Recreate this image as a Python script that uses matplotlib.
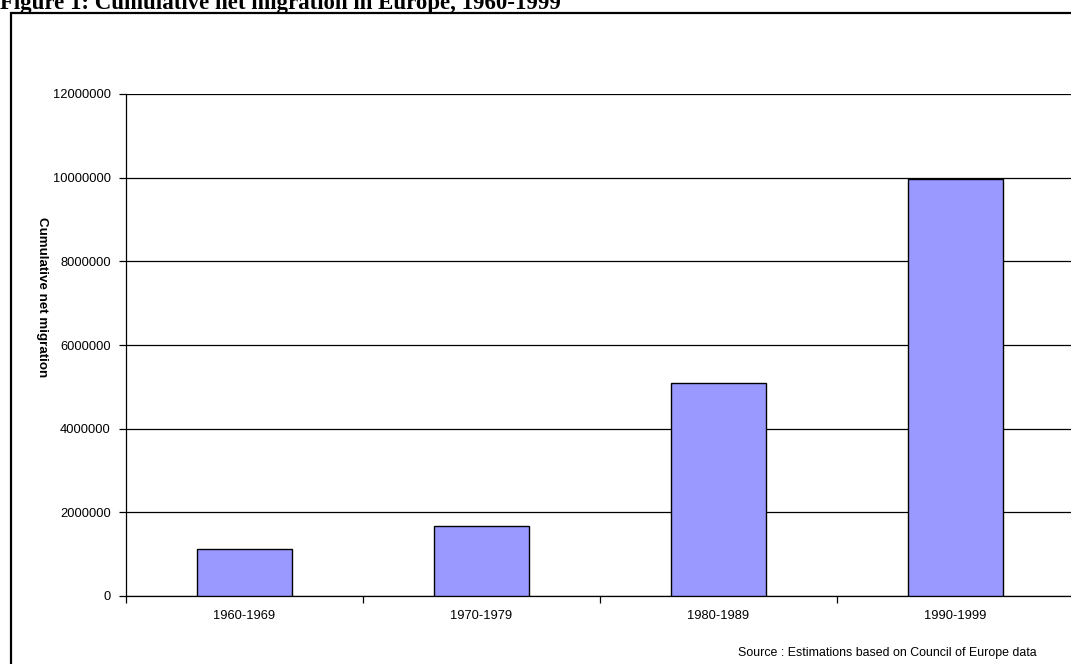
import matplotlib
matplotlib.use("Agg")
import matplotlib.pyplot as plt
from matplotlib.patches import Rectangle
import numpy as np

periods = ["1960-1969", "1970-1979", "1980-1989", "1990-1999"]
net_migration = [1115000, 1680000, 5085000, 9980000]
y_ticks = [0, 2000000, 4000000, 6000000, 8000000, 10000000, 12000000]

plt.rcParams["font.family"] = ["Liberation Sans", "DejaVu Sans"]

W, H = 1071, 664
fig = plt.figure(figsize=(W / 100, H / 100), dpi=100)

# outer frame of the chart object (runs past the right and bottom edges)
frame = Rectangle((11 / W, -0.1), 1.2, 1 - 12.5 / H + 0.1, transform=fig.transFigure,
                  fill=False, edgecolor="black", linewidth=1.6, clip_on=False)
fig.add_artist(frame)

fig.text(0.0, 1 - 9 / H, "Figure 1: Cumulative net migration in Europe, 1960-1999",
         family=["Liberation Serif", "DejaVu Serif"], fontweight="bold", fontsize=16.5,
         ha="left", va="baseline")

ax = fig.add_axes([126 / W, (H - 596) / H, 948 / W, 502 / H])
x = np.arange(len(periods))
ax.bar(x, net_migration, width=0.4, color="#9999FF", edgecolor="black", linewidth=1.0, zorder=3)

ax.set_xlim(-0.5, len(periods) - 0.5)
ax.set_ylim(0, 12000000)
ax.set_yticks(y_ticks)
ax.set_yticklabels([str(v) for v in y_ticks], fontsize=9.3)
ax.yaxis.grid(True, color="black", linewidth=0.9, zorder=0)
ax.set_axisbelow(True)

# categories sit between the tick marks
ax.set_xticks(np.arange(-0.5, len(periods) + 0.5, 1.0))
ax.set_xticklabels([])
ax.set_xticks(x, minor=True)
ax.set_xticklabels(periods, minor=True, fontsize=9.3)
ax.tick_params(axis="x", which="minor", length=0, pad=10)
ax.tick_params(axis="x", which="major", length=5, direction="out", width=0.9)
ax.tick_params(axis="y", length=5, direction="out", width=0.9, pad=6)

for side in ["top", "right"]:
    ax.spines[side].set_visible(False)
ax.spines["left"].set_linewidth(0.9)
ax.spines["bottom"].set_linewidth(0.9)

fig.text(42 / W, 1 - 297 / H, "Cumulative net migration", rotation=-90,
         fontsize=9.6, fontweight="bold", ha="center", va="center")

fig.text(1037 / W, 1 - 653 / H, "Source : Estimations based on Council of Europe data",
         fontsize=8.95, ha="right", va="center")

fig.savefig("out.png", dpi=100)
